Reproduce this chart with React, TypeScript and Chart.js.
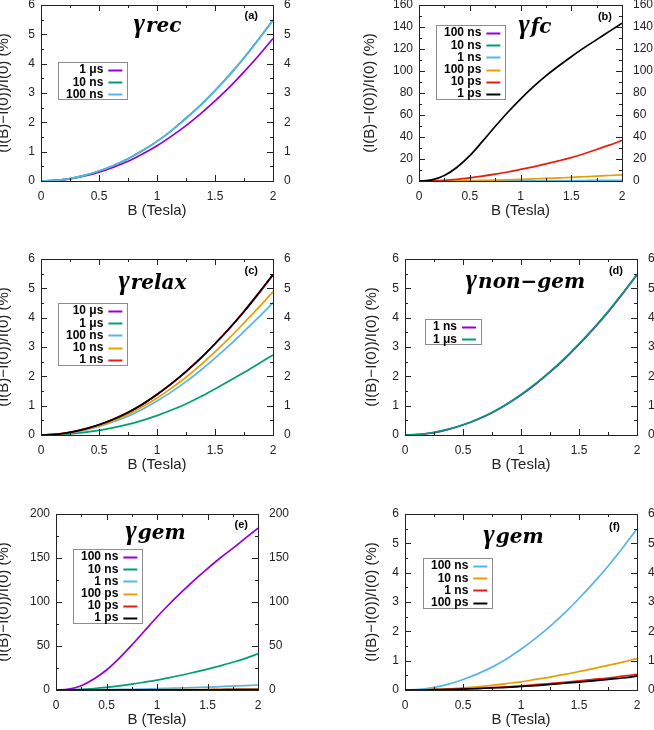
import React, { useEffect, useRef } from 'react';
import { Chart, registerables } from 'chart.js';

Chart.register(...registerables);

// ============================================
// DATA (B every 0.125 T)
// ============================================
const bTesla = [0, 0.125, 0.25, 0.375, 0.5, 0.625, 0.75, 0.875, 1, 1.125, 1.25, 1.375, 1.5, 1.625, 1.75, 1.875, 2];

// (a) gamma rec
const rec1us = [0, 0.02, 0.07, 0.17, 0.3, 0.47, 0.67, 0.92, 1.2, 1.53, 1.89, 2.29, 2.73, 3.2, 3.72, 4.27, 4.86];
const rec10ns = [0, 0.02, 0.08, 0.19, 0.34, 0.53, 0.76, 1.04, 1.35, 1.72, 2.14, 2.59, 3.08, 3.62, 4.2, 4.83, 5.49];
const rec100ns = [0, 0.02, 0.08, 0.19, 0.34, 0.53, 0.76, 1.03, 1.35, 1.72, 2.13, 2.58, 3.08, 3.62, 4.19, 4.82, 5.48];

// (b) gamma fc
const fc100ns = [0, 0, 0, 0, 0, 0, 0, 0.01, 0.01, 0.01, 0.01, 0.02, 0.02, 0.02, 0.03, 0.03, 0.04];
const fc10ns = [0, 0, 0, 0, 0.01, 0.01, 0.01, 0.02, 0.03, 0.03, 0.05, 0.06, 0.07, 0.08, 0.1, 0.11, 0.13];
const fc1ns = [0, 0, 0.01, 0.03, 0.05, 0.07, 0.1, 0.13, 0.17, 0.22, 0.27, 0.32, 0.38, 0.45, 0.52, 0.6, 0.68];
const fc100ps = [0, 0.02, 0.1, 0.23, 0.4, 0.6, 0.85, 1.15, 1.5, 1.9, 2.3, 2.8, 3.3, 3.85, 4.4, 5.0, 5.6];
const fc10ps = [0, 0.2, 0.7, 1.6, 2.9, 4.4, 6.2, 8.2, 10.5, 12.9, 15.5, 18.3, 21.3, 24.8, 28.6, 32.6, 37];
const fc1ps = [0, 1, 5, 12.5, 23, 36, 49.5, 62.5, 74.5, 85.5, 95.5, 104.5, 113, 121, 128.5, 136, 143.5];

// (c) gamma relax
const relax10us = [0, 0.02, 0.09, 0.2, 0.35, 0.54, 0.77, 1.05, 1.38, 1.75, 2.16, 2.61, 3.11, 3.64, 4.21, 4.82, 5.46];
const relax1us = [0, 0.01, 0.04, 0.09, 0.16, 0.25, 0.36, 0.5, 0.66, 0.85, 1.06, 1.3, 1.57, 1.85, 2.13, 2.43, 2.73];
const relax100ns = [0, 0.02, 0.07, 0.16, 0.29, 0.45, 0.64, 0.88, 1.16, 1.47, 1.82, 2.2, 2.62, 3.06, 3.53, 4.01, 4.51];
const relax10ns = [0, 0.02, 0.08, 0.18, 0.32, 0.49, 0.7, 0.96, 1.26, 1.6, 1.97, 2.38, 2.83, 3.31, 3.82, 4.34, 4.88];
const relax1ns = [0, 0.02, 0.09, 0.2, 0.35, 0.54, 0.77, 1.05, 1.38, 1.75, 2.16, 2.61, 3.11, 3.64, 4.21, 4.82, 5.46];
const relaxTop = [0, 0.02, 0.09, 0.2, 0.35, 0.54, 0.77, 1.05, 1.38, 1.75, 2.16, 2.61, 3.11, 3.64, 4.21, 4.83, 5.47];

// (d) gamma non-gem
const nonGem1ns = [0, 0.02, 0.08, 0.19, 0.34, 0.53, 0.76, 1.04, 1.36, 1.73, 2.14, 2.59, 3.09, 3.62, 4.19, 4.81, 5.46];
const nonGem1us = [0, 0.02, 0.09, 0.2, 0.35, 0.54, 0.77, 1.05, 1.38, 1.75, 2.16, 2.61, 3.11, 3.64, 4.21, 4.83, 5.48];

// (e) gamma gem
const gem100ns = [0, 1, 4.9, 12.5, 22.7, 36, 51, 67, 83, 98, 112, 125.5, 138, 150, 161, 172.5, 184];
const gem10ns = [0, 0.2, 0.7, 1.7, 3.0, 4.6, 6.6, 8.9, 11.3, 14.1, 17.0, 20.3, 23.7, 27.4, 31.5, 36.0, 41];
const gem1ns = [0, 0, 0.1, 0.2, 0.4, 0.6, 0.85, 1.15, 1.5, 1.9, 2.3, 2.8, 3.3, 3.85, 4.4, 5.05, 5.7];
const gem100ps = [0, 0, 0.02, 0.04, 0.07, 0.11, 0.16, 0.22, 0.28, 0.36, 0.44, 0.53, 0.63, 0.73, 0.84, 0.95, 1.07];
const gem10ps = [0, 0, 0.01, 0.02, 0.035, 0.055, 0.08, 0.11, 0.14, 0.18, 0.22, 0.26, 0.31, 0.36, 0.41, 0.47, 0.53];
const gem1ps = [0, 0, 0.01, 0.02, 0.03, 0.05, 0.07, 0.09, 0.12, 0.15, 0.19, 0.23, 0.27, 0.31, 0.36, 0.41, 0.47];

// (f) gamma gem, slow end
const gemF100ns = [0, 0.02, 0.09, 0.2, 0.36, 0.55, 0.78, 1.06, 1.39, 1.76, 2.17, 2.62, 3.12, 3.65, 4.22, 4.84, 5.49];
const gemF10ns = [0, 0, 0.02, 0.04, 0.07, 0.11, 0.16, 0.22, 0.28, 0.36, 0.44, 0.53, 0.63, 0.73, 0.84, 0.95, 1.07];
const gemF1ns = [0, 0, 0.01, 0.02, 0.035, 0.055, 0.08, 0.11, 0.14, 0.18, 0.22, 0.26, 0.31, 0.36, 0.41, 0.47, 0.53];
const gemF100ps = [0, 0, 0.01, 0.02, 0.03, 0.05, 0.07, 0.09, 0.12, 0.15, 0.19, 0.23, 0.27, 0.31, 0.36, 0.41, 0.47];

const xTitle = 'B (Tesla)';
const yTitle = '(I(B)\u2212I(0))/I(0) (%)';

// ============================================
// STYLE
// ============================================
const SANS = "'Liberation Sans', Arial, Helvetica, sans-serif";
const SERIF = "'DejaVu Serif', 'Liberation Serif', serif";
const GREEK = "'Liberation Serif', 'DejaVu Serif', serif";
const INK = '#222222';
const PURPLE = '#9400d3';
const GREEN = '#009e73';
const BLUE = '#56b4e9';
const ORANGE = '#e69f00';
const RED = '#e51e10';
const BLACK = '#000000';

const PAD_TOP = 12;
const RIGHT_W = 55;
const TITLE_SIZE = 15;
const TITLE_HALF = (TITLE_SIZE * 1.2) / 2;

interface Series {
  label: string;
  color: string;
  values: number[];
  legend?: boolean;
}

interface Area {
  left: number;
  top: number;
  right: number;
  bottom: number;
}

interface PanelSpec {
  tag: string;
  sub: string;
  yMax: number;
  yStep: number;
  series: Series[];
  area: Area;
  yTitleX: number;
  titleDx: number;
  titleDy: number;
  tagDx: number;
  tagDy: number;
  legendDx: number;
  legendDy: number;
}

const panels: PanelSpec[] = [
  {
    tag: '(a)', sub: 'rec', yMax: 6, yStep: 1,
    series: [
      { label: '1 \u03bcs', color: PURPLE, values: rec1us },
      { label: '10 ns', color: GREEN, values: rec10ns },
      { label: '100 ns', color: BLUE, values: rec100ns },
    ],
    area: { left: 41, top: 5, right: 273, bottom: 181 },
    yTitleX: 4, titleDx: 0, titleDy: 27, tagDx: 15, tagDy: 11, legendDx: 17, legendDy: 57,
  },
  {
    tag: '(b)', sub: 'fc', yMax: 160, yStep: 20,
    series: [
      { label: '100 ns', color: PURPLE, values: fc100ns },
      { label: '10 ns', color: GREEN, values: fc10ns },
      { label: '1 ns', color: BLUE, values: fc1ns },
      { label: '100 ps', color: ORANGE, values: fc100ps },
      { label: '10 ps', color: RED, values: fc10ps },
      { label: '1 ps', color: BLACK, values: fc1ps },
    ],
    area: { left: 419, top: 5, right: 622, bottom: 181 },
    yTitleX: 370, titleDx: 14, titleDy: 28, tagDx: 10, tagDy: 12, legendDx: 17, legendDy: 20,
  },
  {
    tag: '(c)', sub: 'relax', yMax: 6, yStep: 1,
    series: [
      { label: '10 \u03bcs', color: PURPLE, values: relax10us },
      { label: '1 \u03bcs', color: GREEN, values: relax1us },
      { label: '100 ns', color: BLUE, values: relax100ns },
      { label: '10 ns', color: ORANGE, values: relax10ns },
      { label: '1 ns', color: RED, values: relax1ns },
      { label: '', color: BLACK, values: relaxTop, legend: false },
    ],
    area: { left: 41, top: 259, right: 273, bottom: 435 },
    yTitleX: 4, titleDx: -5, titleDy: 30, tagDx: 15, tagDy: 12, legendDx: 17, legendDy: 44,
  },
  {
    tag: '(d)', sub: 'non\u2212gem', yMax: 6, yStep: 1,
    series: [
      { label: '1 ns', color: PURPLE, values: nonGem1ns },
      { label: '1 \u03bcs', color: GREEN, values: nonGem1us },
    ],
    area: { left: 405, top: 259, right: 637, bottom: 435 },
    yTitleX: 372, titleDx: 4, titleDy: 29, tagDx: 14, tagDy: 12, legendDx: 20, legendDy: 60,
  },
  {
    tag: '(e)', sub: 'gem', yMax: 200, yStep: 50,
    series: [
      { label: '100 ns', color: PURPLE, values: gem100ns },
      { label: '10 ns', color: GREEN, values: gem10ns },
      { label: '1 ns', color: BLUE, values: gem1ns },
      { label: '100 ps', color: ORANGE, values: gem100ps },
      { label: '10 ps', color: RED, values: gem10ps },
      { label: '1 ps', color: BLACK, values: gem1ps },
    ],
    area: { left: 56, top: 514, right: 258, bottom: 690 },
    yTitleX: 4, titleDx: -2, titleDy: 25, tagDx: 10, tagDy: 11, legendDx: 17, legendDy: 35,
  },
  {
    tag: '(f)', sub: 'gem', yMax: 6, yStep: 1,
    series: [
      { label: '100 ns', color: BLUE, values: gemF100ns },
      { label: '10 ns', color: ORANGE, values: gemF10ns },
      { label: '1 ns', color: RED, values: gemF1ns },
      { label: '100 ps', color: BLACK, values: gemF100ps },
    ],
    area: { left: 405, top: 514, right: 637, bottom: 690 },
    yTitleX: 372, titleDx: -8, titleDy: 29, tagDx: 17, tagDy: 13, legendDx: 18, legendDy: 44,
  },
];

// ============================================
// PANEL
// ============================================
const Panel: React.FC<{ spec: PanelSpec }> = ({ spec }) => {
  const canvasRef = useRef<HTMLCanvasElement>(null);
  const { area } = spec;
  const left = Math.round(spec.yTitleX - TITLE_HALF);
  const top = area.top - PAD_TOP;
  const width = area.right - left + RIGHT_W;
  const height = Math.round(area.bottom + 30 + TITLE_HALF - top);
  const leftW = area.left - left;
  const bottomH = height - PAD_TOP - (area.bottom - area.top);

  useEffect(() => {
    const canvas = canvasRef.current;
    if (!canvas) return;

    const decor = {
      id: 'decor',
      afterDraw(chart: any) {
        const { ctx, chartArea: a } = chart;
        const xs = chart.scales.x;
        const ys = chart.scales.y;
        ctx.save();

        // inward ticks on all four sides, gnuplot style
        const majors = (sc: any) => sc.ticks.map((t: any) => t.value as number);
        const minors = (vals: number[]) => vals.slice(1).map((v, i) => (v + vals[i]) / 2);
        ctx.strokeStyle = INK;
        ctx.lineWidth = 1;
        ctx.beginPath();
        const tickX = (v: number, len: number) => {
          const p = Math.round(xs.getPixelForValue(v)) + 0.5;
          ctx.moveTo(p, a.bottom); ctx.lineTo(p, a.bottom - len);
          ctx.moveTo(p, a.top); ctx.lineTo(p, a.top + len);
        };
        const tickY = (v: number, len: number) => {
          const p = Math.round(ys.getPixelForValue(v)) + 0.5;
          ctx.moveTo(a.left, p); ctx.lineTo(a.left + len, p);
          ctx.moveTo(a.right, p); ctx.lineTo(a.right - len, p);
        };
        const xMaj = majors(xs);
        const yMaj = majors(ys);
        xMaj.forEach((v: number) => tickX(v, 6));
        minors(xMaj).forEach((v) => tickX(v, 3));
        yMaj.forEach((v: number) => tickY(v, 6));
        minors(yMaj).forEach((v) => tickY(v, 3));
        ctx.stroke();
        ctx.strokeRect(Math.round(a.left) + 0.5, Math.round(a.top) + 0.5,
          Math.round(a.right - a.left), Math.round(a.bottom - a.top));

        // key box
        const items = spec.series.filter((s) => s.legend !== false);
        ctx.font = `bold 12px ${SANS}`;
        const maxW = Math.max(...items.map((s) => ctx.measureText(s.label).width));
        const bx = Math.round(a.left + spec.legendDx);
        const by = Math.round(a.top + spec.legendDy);
        const rowH = 12.2;
        const bw = Math.round(8 + maxW + 5 + 14 + 5);
        const bh = Math.round(8 + rowH * (items.length - 1) + 5);
        ctx.fillStyle = '#ffffff';
        ctx.fillRect(bx, by, bw, bh);
        ctx.strokeStyle = '#8c8c8c';
        ctx.lineWidth = 1;
        ctx.strokeRect(bx + 0.5, by + 0.5, bw, bh);
        ctx.textAlign = 'right';
        ctx.textBaseline = 'middle';
        items.forEach((s, i) => {
          const cy = by + 8 + rowH * i;
          const tx = bx + 8 + maxW;
          ctx.fillStyle = BLACK;
          ctx.fillText(s.label, tx, cy);
          ctx.strokeStyle = s.color;
          ctx.lineWidth = 2;
          ctx.beginPath();
          ctx.moveTo(tx + 5, Math.round(cy) + 0.5);
          ctx.lineTo(tx + 19, Math.round(cy) + 0.5);
          ctx.stroke();
        });

        // gamma title
        const cx = (a.left + a.right) / 2 + spec.titleDx;
        const base = a.top + spec.titleDy;
        ctx.fillStyle = BLACK;
        ctx.textBaseline = 'alphabetic';
        ctx.textAlign = 'left';
        ctx.font = `bold italic 27px ${GREEK}`;
        const wg = ctx.measureText('\u03b3').width;
        ctx.font = `bold italic 20px ${SERIF}`;
        const ws = ctx.measureText(spec.sub).width;
        const x0 = cx - (wg + ws) / 2;
        ctx.font = `bold italic 27px ${GREEK}`;
        ctx.fillText('\u03b3', x0, base);
        ctx.font = `bold italic 20px ${SERIF}`;
        ctx.fillText(spec.sub, x0 + wg + 1, base);

        // panel tag
        ctx.font = `bold 11px ${SANS}`;
        ctx.textAlign = 'right';
        ctx.textBaseline = 'middle';
        ctx.fillText(spec.tag, a.right - spec.tagDx, a.top + spec.tagDy);
        ctx.restore();
      },
    };

    const n = spec.series.length;
    const tickFont = { family: SANS, size: 12 };
    const titleFont = { family: SANS, size: TITLE_SIZE };
    const yTicks = {
      stepSize: spec.yStep,
      color: INK,
      font: tickFont,
      callback: (v: any) => String(v),
    };

    const chart = new Chart(canvas, {
      type: 'line',
      data: {
        datasets: spec.series.map((s, i) => ({
          label: s.label,
          data: bTesla.map((b, j) => ({ x: b, y: s.values[j] })),
          borderColor: s.color,
          borderWidth: 1.7,
          pointRadius: 0,
          fill: false,
          cubicInterpolationMode: 'monotone' as const,
          order: n - i,
        })),
      },
      options: {
        animation: false,
        responsive: true,
        maintainAspectRatio: false,
        events: [],
        layout: { padding: { top: PAD_TOP, left: 0, right: 0, bottom: 0 } },
        plugins: { legend: { display: false }, tooltip: { enabled: false } },
        scales: {
          x: {
            type: 'linear',
            min: 0,
            max: 2,
            grid: { display: false, drawTicks: false },
            border: { display: false },
            ticks: { stepSize: 0.5, padding: 8, color: INK, font: tickFont, callback: (v: any) => String(v) },
            title: { display: true, text: xTitle, color: INK, font: titleFont, padding: 0 },
            afterFit: (sc: any) => { sc.height = bottomH; sc.paddingLeft = 0; sc.paddingRight = 0; },
          },
          y: {
            type: 'linear',
            position: 'left',
            min: 0,
            max: spec.yMax,
            grid: { display: false, drawTicks: false },
            border: { display: false },
            ticks: { ...yTicks, padding: 6 },
            title: { display: true, text: yTitle, color: INK, font: titleFont, padding: 0 },
            afterFit: (sc: any) => { sc.width = leftW; sc.paddingTop = 0; sc.paddingBottom = 0; },
          },
          y2: {
            type: 'linear',
            position: 'right',
            min: 0,
            max: spec.yMax,
            grid: { display: false, drawTicks: false },
            border: { display: false },
            ticks: { ...yTicks, padding: 11 },
            afterFit: (sc: any) => { sc.width = RIGHT_W; sc.paddingTop = 0; sc.paddingBottom = 0; },
          },
        },
      },
      plugins: [decor],
    } as any);

    return () => chart.destroy();
  }, [spec]);

  return (
    <div style={{ position: 'absolute', left, top, width, height }}>
      <canvas ref={canvasRef}></canvas>
    </div>
  );
};

// ============================================
// MAIN
// ============================================
const App: React.FC = () => (
  <div
    style={{
      position: 'absolute',
      left: 0,
      top: 0,
      width: 654,
      height: 730,
      overflow: 'hidden',
      background: '#ffffff',
    }}
  >
    {panels.map((p) => (
      <Panel key={p.tag} spec={p} />
    ))}
  </div>
);

export default App;
